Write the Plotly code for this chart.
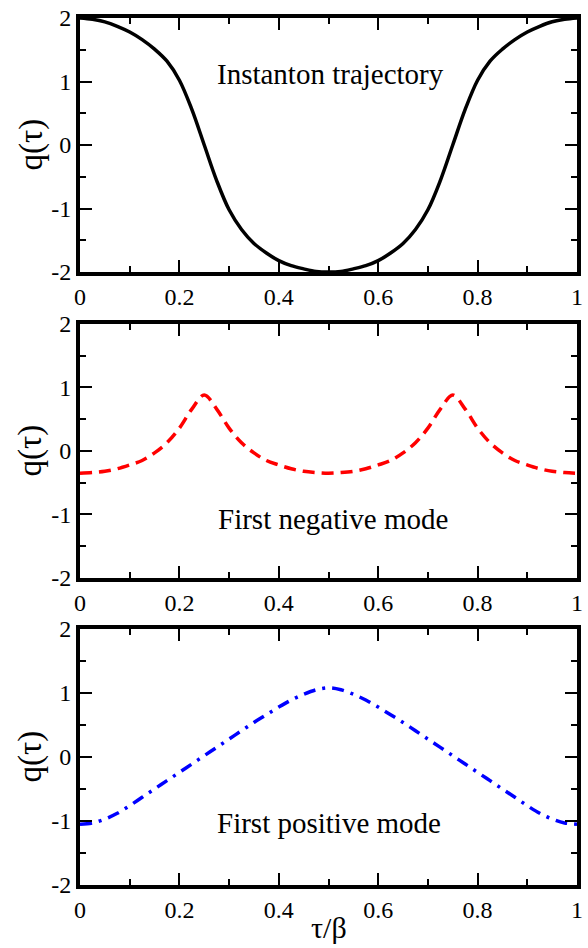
import plotly.graph_objects as go

# ---- data ----
tau = [0.0, 0.025, 0.05, 0.075, 0.1, 0.125, 0.15, 0.175, 0.2, 0.225, 0.25,
       0.275, 0.3, 0.325, 0.35, 0.375, 0.4, 0.425, 0.45, 0.475, 0.5,
       0.525, 0.55, 0.575, 0.6, 0.625, 0.65, 0.675, 0.7, 0.725, 0.75,
       0.775, 0.8, 0.825, 0.85, 0.875, 0.9, 0.925, 0.95, 0.975, 1.0]

q_instanton = [2.00, 1.98, 1.94, 1.87, 1.78, 1.66, 1.51, 1.32, 1.02, 0.56, 0.00,
               -0.56, -1.02, -1.33, -1.55, -1.70, -1.82, -1.90, -1.95, -1.99, -2.00,
               -1.99, -1.95, -1.90, -1.82, -1.70, -1.55, -1.33, -1.02, -0.56, 0.00,
               0.56, 1.02, 1.32, 1.51, 1.66, 1.78, 1.87, 1.94, 1.98, 2.00]

q_negative = [-0.35, -0.34, -0.32, -0.28, -0.22, -0.15, -0.03, 0.13, 0.36, 0.66, 0.88,
              0.66, 0.36, 0.13, -0.03, -0.15, -0.22, -0.28, -0.32, -0.34, -0.35,
              -0.34, -0.32, -0.28, -0.22, -0.15, -0.03, 0.13, 0.36, 0.66, 0.88,
              0.66, 0.36, 0.13, -0.03, -0.15, -0.22, -0.28, -0.32, -0.34, -0.35]

q_positive = [-1.05, -1.03, -0.97, -0.88, -0.76, -0.63, -0.50, -0.37, -0.24, -0.11, 0.02,
              0.15, 0.28, 0.41, 0.54, 0.66, 0.78, 0.89, 0.98, 1.05, 1.08,
              1.05, 0.98, 0.89, 0.78, 0.66, 0.54, 0.41, 0.28, 0.15, 0.02,
              -0.11, -0.24, -0.37, -0.50, -0.63, -0.76, -0.88, -0.97, -1.03, -1.05]

panel_labels = ["Instanton trajectory", "First negative mode", "First positive mode"]
x_ticks = [0, 0.2, 0.4, 0.6, 0.8, 1]
x_ticktext = ["0", "0.2", "0.4", "0.6", "0.8", "1"]
y_ticks = [-2, -1, 0, 1, 2]
y_ticktext = ["-2", "-1", "0", "1", "2"]

FONT = "Times New Roman, Liberation Serif, serif"

fig = go.Figure()
series = [
    (q_instanton, "black", "solid", "x", "y"),
    (q_negative, "#ff0000", "12px,7px", "x2", "y2"),
    (q_positive, "#0000ff", "12px,7px,3px,7px", "x3", "y3"),
]
for vals, col, dash, xa, ya in series:
    fig.add_trace(go.Scatter(x=tau, y=vals, mode="lines", xaxis=xa, yaxis=ya,
                             line=dict(color=col, width=3.5, dash=dash,
                                       shape="spline", smoothing=1.0),
                             showlegend=False, hoverinfo="skip"))

domains = [[0.7070, 1.0], [0.3541, 0.6471], [0.0, 0.2953]]

common_x = dict(range=[0, 1], tickvals=x_ticks, ticktext=x_ticktext, showline=True,
                linewidth=4, linecolor="black", mirror="ticks", ticks="inside",
                ticklen=12, tickwidth=2, tickcolor="black", showgrid=False,
                zeroline=False,
                minor=dict(ticks="inside", ticklen=6, tickwidth=2, dtick=0.1,
                           tickcolor="black", showgrid=False),
                tickfont=dict(family=FONT, size=24, color="black"))
common_y = dict(range=[-2, 2], tickvals=y_ticks, ticktext=y_ticktext, showline=True,
                linewidth=4, linecolor="black", mirror="ticks", ticks="inside",
                ticklen=12, tickwidth=2, tickcolor="black", showgrid=False,
                zeroline=False,
                minor=dict(ticks="inside", ticklen=6, tickwidth=2, dtick=0.5,
                           tickcolor="black", showgrid=False),
                tickfont=dict(family=FONT, size=24, color="black"))

layout = dict(width=588, height=948, margin=dict(l=80, r=5, t=18, b=63),
              paper_bgcolor="white", plot_bgcolor="white", showlegend=False,
              font=dict(family=FONT, color="black"))
for i, dom in enumerate(domains):
    sfx = "" if i == 0 else str(i + 1)
    layout["xaxis" + sfx] = dict(common_x, domain=[0, 1], anchor="y" + sfx)
    layout["yaxis" + sfx] = dict(common_y, domain=dom, anchor="x" + sfx)
fig.update_layout(**layout)

ann_pos = [(0.505, 1.12), (0.51, -1.07), (0.50, -1.03)]
for i, (lab, (ax_, ay_)) in enumerate(zip(panel_labels, ann_pos)):
    sfx = "" if i == 0 else str(i + 1)
    fig.add_annotation(text=lab, x=ax_, y=ay_, xref="x" + sfx, yref="y" + sfx,
                       showarrow=False, xanchor="center", yanchor="middle",
                       font=dict(family=FONT, size=29, color="black"))
    fig.add_annotation(text="q(τ)", x=-0.0994, y=0.5, xref="paper",
                       yref="y" + sfx + " domain", showarrow=False, textangle=-90,
                       xanchor="center", yanchor="middle",
                       font=dict(family=FONT, size=33, color="black"))

fig.add_annotation(text="τ/β", x=0.5, y=-0.049, xref="paper", yref="paper",
                   showarrow=False, xanchor="center", yanchor="middle",
                   font=dict(family=FONT, size=30, color="black"))

fig.write_html("out.html")
